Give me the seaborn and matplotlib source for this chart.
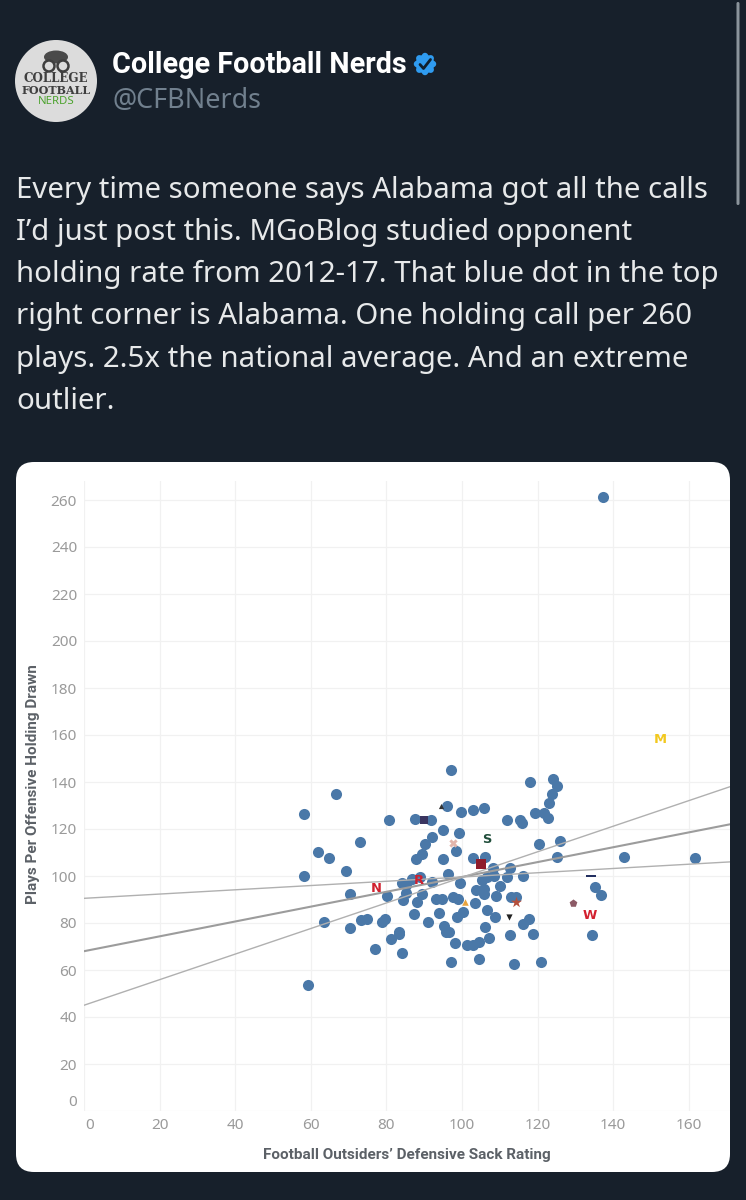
import numpy as np
import pandas as pd
import matplotlib
matplotlib.use("Agg")
import matplotlib.pyplot as plt
import matplotlib.transforms as mtrans
from matplotlib.patches import FancyBboxPatch, Circle, Ellipse
import seaborn as sns

# ---- data ----
sack_rating = [66.7,58.1,80.6,87.5,91.7,73.1,62.0,64.9,92.0,90.3,89.3,87.9,69.3,58.3,84.1,86.7,88.9,92.0,85.2,70.5,
               80.2,85.2,84.4,89.3,88.0,93.2,87.2,94.0,63.6,70.5,73.4,75.0,78.9,79.5,91.1,83.4,83.4,81.2,77.1,84.1,
               97.1,117.9,124.2,125.2,123.9,123.1,119.2,121.6,122.8,115.3,115.8,111.9,96.1,99.7,103.0,105.7,95.0,99.2,120.5,125.8,
               98.4,95.0,103.0,106.1,125.1,142.9,108.3,112.7,108.4,111.9,116.2,96.4,99.5,105.2,106.7,110.0,103.6,105.9,105.9,109.0,
               112.9,114.2,97.5,99.0,94.8,103.4,135.3,136.9,106.7,100.2,98.8,108.8,117.7,116.2,106.1,95.3,95.7,96.5,107.2,112.7,
               118.9,134.3,98.1,101.2,103.0,104.4,97.1,104.6,113.8,121.0,137.3,161.6,59.2]
plays_per_holding = [134.9,126.5,123.7,124.1,123.7,114.3,110.2,107.8,116.4,113.6,109.3,107.4,102.3,100.1,97.1,98.6,99.7,97.6,96.2,92.5,
                     91.5,92.6,89.6,92.2,88.8,90.1,83.8,84.2,80.4,77.9,81.1,81.7,80.4,81.7,80.4,76.3,75.3,73.3,68.9,67.4,
                     145.0,140.0,141.3,138.3,134.9,130.9,126.6,126.6,124.5,123.7,122.4,123.7,129.9,127.4,128.2,129.1,119.4,118.1,113.6,114.9,
                     110.6,107.4,107.8,108.1,108.1,108.1,103.5,103.5,100.1,99.7,100.1,100.8,97.1,98.3,99.7,95.6,93.9,94.3,92.2,91.3,
                     90.9,91.0,90.9,90.1,90.2,88.4,95.2,91.8,85.4,84.5,82.4,82.4,81.7,79.7,78.3,78.8,76.0,76.3,73.6,74.9,
                     75.3,74.9,71.6,70.6,70.6,71.9,63.5,64.7,62.7,63.2,261.3,107.7,53.6]

letter_labels = ["N", "R", "M", "S", "W"]
letter_x = [77.3, 88.6, 152.4, 106.6, 133.8]
letter_y = [94.5, 97.9, 157.9, 115.7, 83.4]
letter_colors = ["#d0202e", "#d0202e", "#f2c81e", "#1f4d3a", "#d3202f"]

logo_x = [105.1, 97.6, 100.8, 114.3, 112.4, 129.4, 134.1, 90.0, 94.4]
logo_y = [105.1, 114.0, 88.9, 88.9, 82.6, 88.5, 100.0, 123.8, 129.8]
logo_colors = ["#8f1d2c", "#e3b5ac", "#e9a33c", "#b5503c", "#222222", "#8c5a66", "#1d2a5c", "#3a3560", "#333333"]
logo_markers = ["s", "X", "^", "*", "v", "p", "_", "s", "^"]
logo_sizes = [56, 36, 22, 70, 20, 34, 44, 28, 14]

fit_x = [0, 170.9]
fit_mid = [68, 122]
fit_upper = [45, 138]
fit_lower = [90.5, 106]

x_ticks = list(range(0, 161, 20))
y_ticks = list(range(0, 261, 20))

tweet_name = "College Football Nerds"
tweet_handle = "@CFBNerds"
tweet_lines = ["Every time someone says Alabama got all the calls",
               "I’d just post this. MGoBlog studied opponent",
               "holding rate from 2012-17. That blue dot in the top",
               "right corner is Alabama. One holding call per 260",
               "plays. 2.5x the national average. And an extreme",
               "outlier."]
tweet_y = [190.5, 232.5, 274.5, 316.5, 359.5, 401.5]

# ---- figure ----
sns.set_theme(style="white")
plt.rcParams["font.family"] = ["Noto Sans", "DejaVu Sans"]
W, H = 746, 1200
BG = "#17202b"
fig = plt.figure(figsize=(W/100, H/100), dpi=100, facecolor=BG)

over = fig.add_axes([0, 0, 1, 1], zorder=0)
over.set_xlim(0, W); over.set_ylim(H, 0); over.axis("off")

# scrollbar
over.add_patch(FancyBboxPatch((736.5, 2), 3, 203, boxstyle="round,pad=0,rounding_size=1.5", fc="#8b949c", ec="none"))

# avatar
over.add_patch(Circle((56, 81), 41, fc="#dcdcdc", ec="none"))
over.add_patch(Ellipse((56, 57), 24, 13, fc="#4a4a4a", ec="none"))
for cx in (49, 63):
    over.add_patch(Circle((cx, 66), 5.5, fc="#dcdcdc", ec="#3f3f3f", lw=1.8))
over.text(56, 79, "COLLEGE", family="DejaVu Serif", weight="bold", fontsize=8.6, color="#3f3f3f", ha="center", va="center")
over.text(56, 90, "FOOTBALL", family="DejaVu Serif", weight="bold", fontsize=8.0, color="#3f3f3f", ha="center", va="center")
over.text(56, 101, "NERDS", fontsize=8.2, color="#4da32f", ha="center", va="center")

# name and badge
over.text(112, 65, tweet_name, fontsize=20.7, family="Roboto", weight="bold", color="#ffffff", va="center", ha="left")
over.text(112, 101, tweet_handle, fontsize=19.4, color="#71808e", va="center", ha="left")
over.add_patch(Circle((425, 64), 9.5, fc="#2f9bf0", ec="none"))
for dx, dy in ((8,0),(-8,0),(0,8),(0,-8),(5.7,5.7),(-5.7,5.7),(5.7,-5.7),(-5.7,-5.7)):
    over.add_patch(Circle((425+dx, 64+dy), 3.2, fc="#2f9bf0", ec="none"))
over.plot([420, 423.5, 430.5], [64.5, 68.5, 59.5], color="#10202e", lw=2.0, solid_capstyle="round")

for line, yy in zip(tweet_lines, tweet_y):
    over.text(16, yy, line, fontsize=21.2, color="#e7e9ea", va="center", ha="left")

# card
over.add_patch(FancyBboxPatch((16, 462), 714, 710, boxstyle="round,pad=0,rounding_size=18", fc="#ffffff", ec="none"))

# ---- chart axes ----
px_left, px_right, px_bottom, px_top = 84, 730, 1111, 481
ax = fig.add_axes([px_left/W, 1-px_bottom/H, (px_right-px_left)/W, (px_bottom-px_top)/H], zorder=1)
ax.patch.set_alpha(0)
ax.set_xlim(0, (px_right-px_left)/3.78)
ax.set_ylim(0, (px_bottom-px_top)/2.35)

df = pd.DataFrame({"rating": sack_rating, "plays": plays_per_holding})
sns.scatterplot(data=df, x="rating", y="plays", ax=ax, color="#4a78a8", s=64, linewidth=0, alpha=1, zorder=3, clip_on=False)

for ys, lw, col in ((fit_mid, 1.5, "#9c9c9c"), (fit_upper, 1.0, "#b0b0b0"), (fit_lower, 1.0, "#b0b0b0")):
    sns.lineplot(x=fit_x, y=ys, ax=ax, color=col, lw=lw, zorder=4, errorbar=None)

for xv, yv, c, m, sz in zip(logo_x, logo_y, logo_colors, logo_markers, logo_sizes):
    ax.scatter([xv], [yv], marker=m, s=sz, c=c, linewidths=1.4 if m == "_" else 0, zorder=5)
for lab, xv, yv, c in zip(letter_labels, letter_x, letter_y, letter_colors):
    ax.text(xv, yv, lab, color=c, fontsize=9.4, weight="bold", family="DejaVu Sans", ha="center", va="center", zorder=6)

ax.set_xticks(x_ticks); ax.set_yticks(y_ticks)
ax.grid(True, color="#f1f1f1", lw=0.9)
ax.set_axisbelow(True)
for s in ax.spines.values():
    s.set_visible(False)
ax.tick_params(length=0, labelsize=11, labelcolor="#9a9a9a", pad=5)
for t in ax.get_xticklabels() + ax.get_yticklabels():
    t.set_fontfamily("Noto Sans")
# Tableau-style nudges on the first labels
xl = ax.get_xticklabels()[0]
xl.set_transform(xl.get_transform() + mtrans.ScaledTranslation(6/100, 0, fig.dpi_scale_trans))
yl = ax.get_yticklabels()[0]
yl.set_transform(yl.get_transform() + mtrans.ScaledTranslation(0, 11/100, fig.dpi_scale_trans))

ax.set_xlabel(""); ax.set_ylabel("")
over2 = fig.add_axes([0, 0, 1, 1], zorder=2)
over2.set_xlim(0, W); over2.set_ylim(H, 0); over2.axis("off"); over2.patch.set_alpha(0)
over2.text(407, 1155.5, "Football Outsiders’ Defensive Sack Rating", fontsize=11.0, family="Roboto", weight="bold",
           color="#5c6167", ha="center", va="center")
over2.text(33, 784, "Plays Per Offensive Holding Drawn", fontsize=11.0, family="Roboto", weight="bold",
           color="#5c6167", ha="center", va="center", rotation=90)

fig.savefig("out.png", dpi=100, facecolor=BG)
